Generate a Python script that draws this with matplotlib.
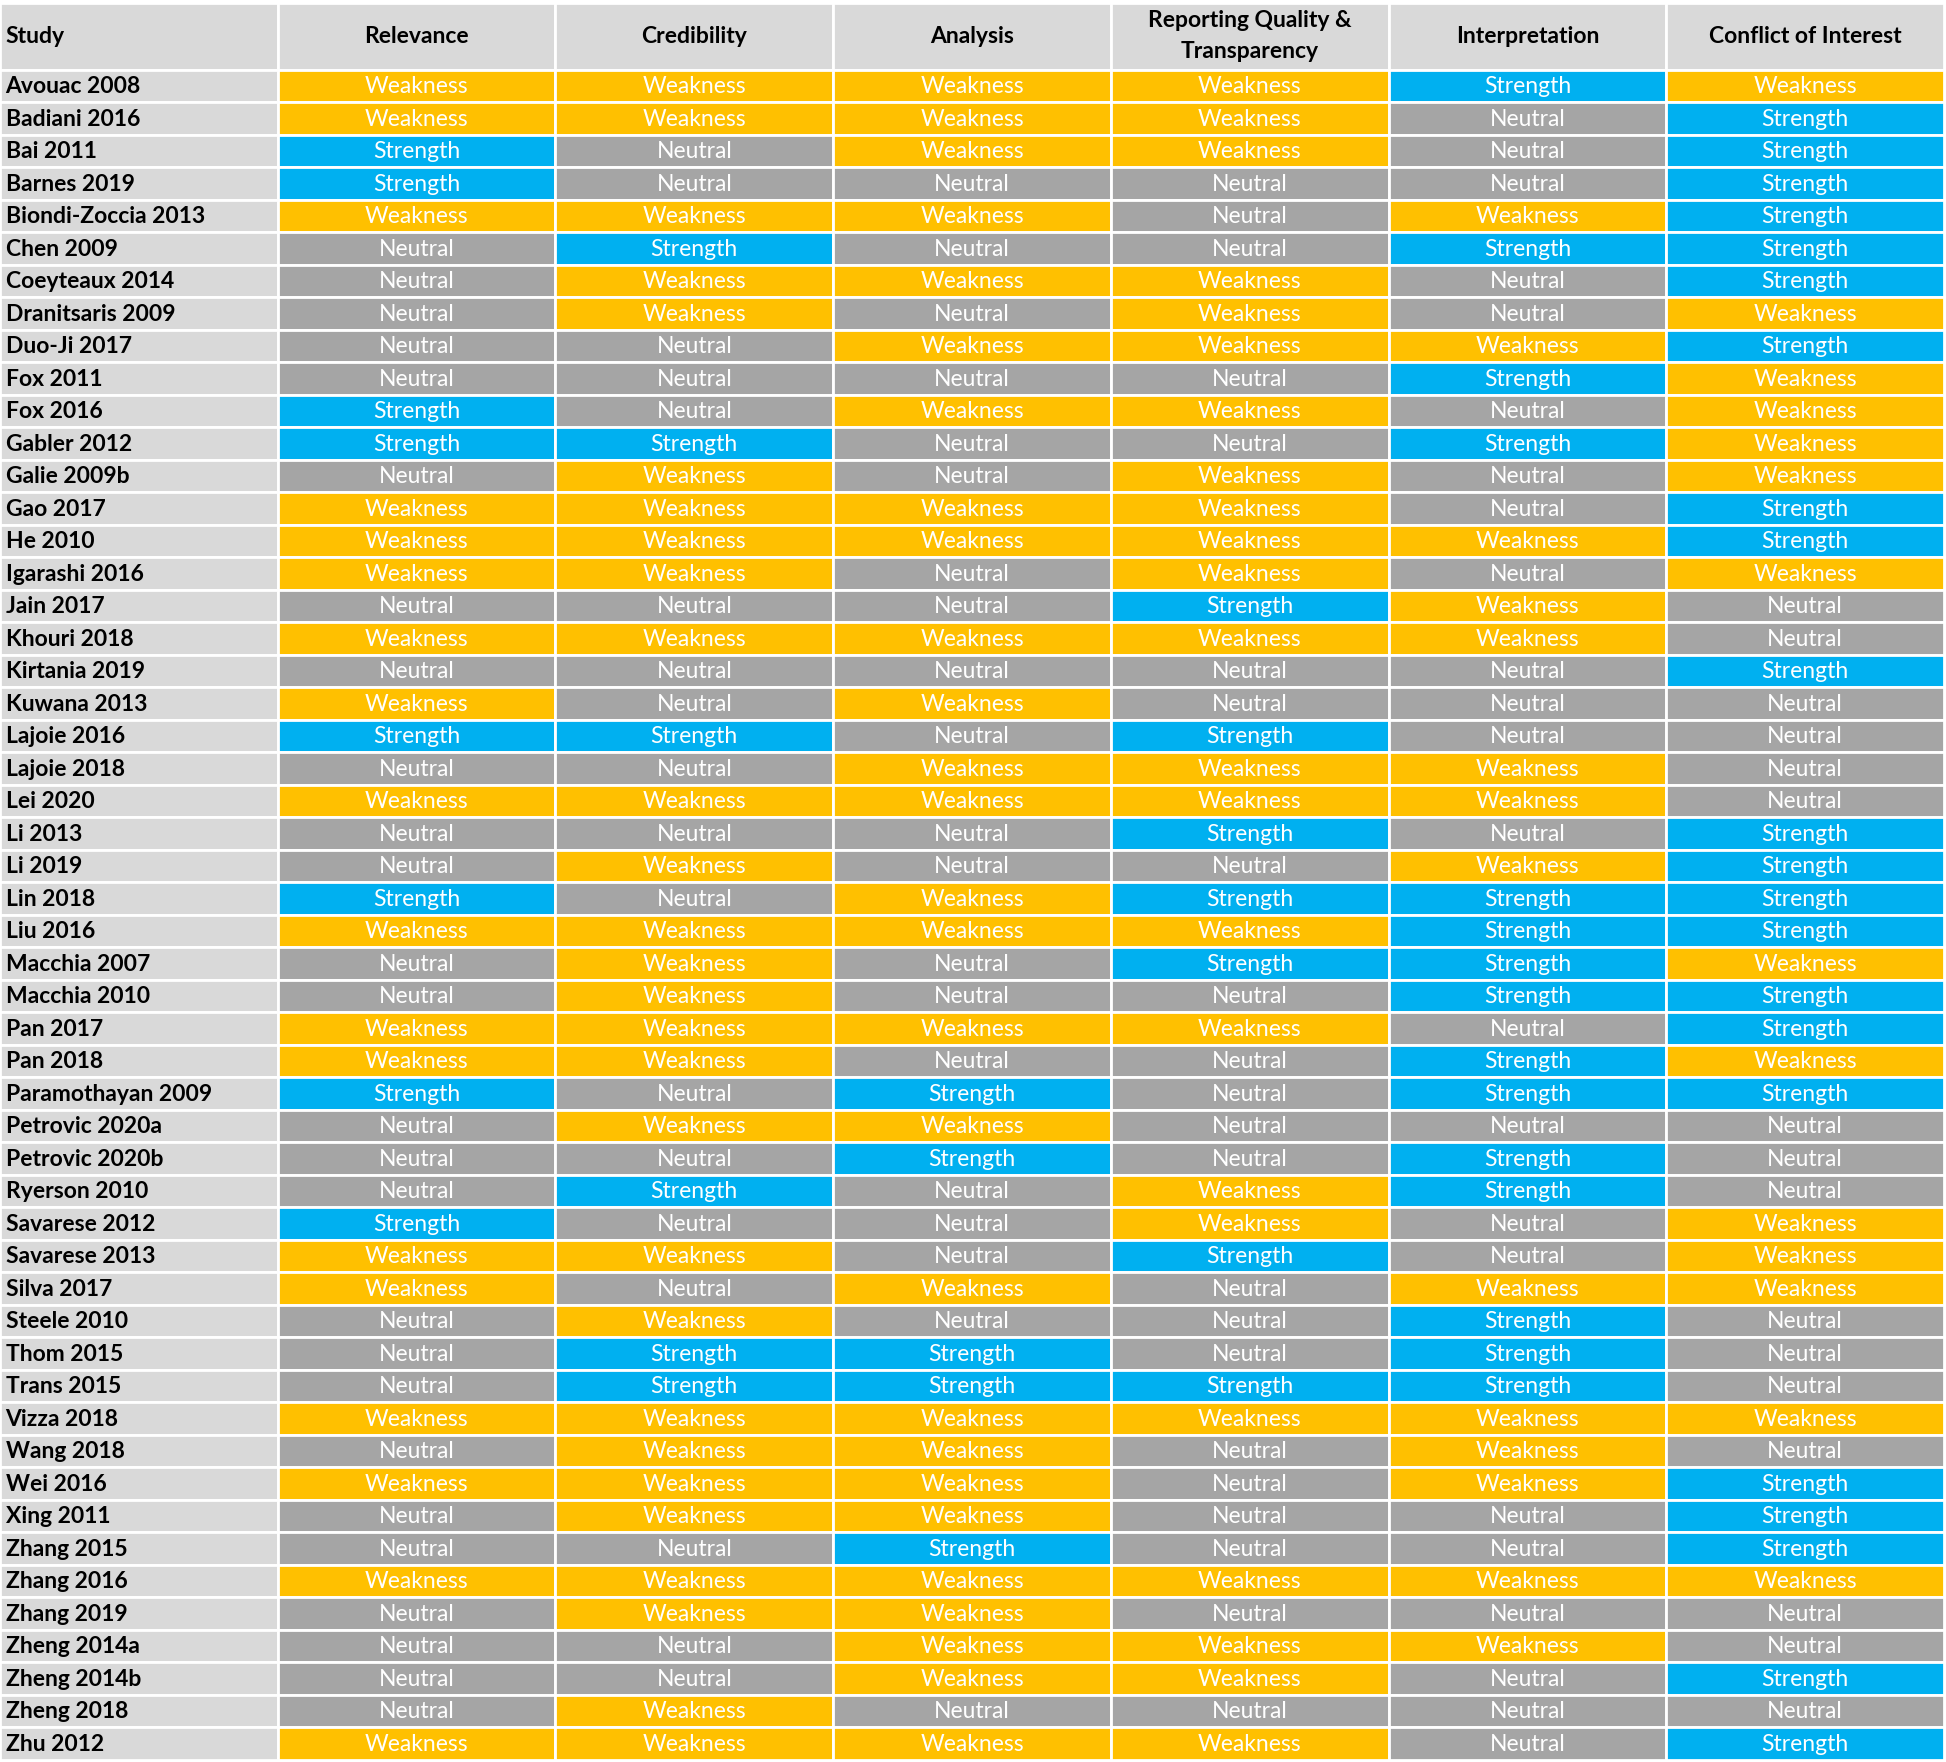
import matplotlib
matplotlib.use("Agg")
import matplotlib.pyplot as plt
from matplotlib.patches import Rectangle

plt.rcParams['font.family'] = ['Lato', 'DejaVu Sans']

# table contents
columns = ["Relevance", "Credibility", "Analysis", "Reporting Quality &\nTransparency",
           "Interpretation", "Conflict of Interest"]

studies = ["Avouac 2008", "Badiani 2016", "Bai 2011", "Barnes 2019", "Biondi-Zoccia 2013",
           "Chen 2009", "Coeyteaux 2014", "Dranitsaris 2009", "Duo-Ji 2017", "Fox 2011",
           "Fox 2016", "Gabler 2012", "Galie 2009b", "Gao 2017", "He 2010",
           "Igarashi 2016", "Jain 2017", "Khouri 2018", "Kirtania 2019", "Kuwana 2013",
           "Lajoie 2016", "Lajoie 2018", "Lei 2020", "Li 2013", "Li 2019",
           "Lin 2018", "Liu 2016", "Macchia 2007", "Macchia 2010", "Pan 2017",
           "Pan 2018", "Paramothayan 2009", "Petrovic 2020a", "Petrovic 2020b", "Ryerson 2010",
           "Savarese 2012", "Savarese 2013", "Silva 2017", "Steele 2010", "Thom 2015",
           "Trans 2015", "Vizza 2018", "Wang 2018", "Wei 2016", "Xing 2011",
           "Zhang 2015", "Zhang 2016", "Zhang 2019", "Zheng 2014a", "Zheng 2014b",
           "Zheng 2018", "Zhu 2012"]

# W = Weakness, S = Strength, N = Neutral
ratings = ["WWWWSW", "WWWWNS", "SNWWNS", "SNNNNS", "WWWNWS",
           "NSNNSS", "NWWWNS", "NWNWNW", "NNWWWS", "NNNNSW",
           "SNWWNW", "SSNNSW", "NWNWNW", "WWWWNS", "WWWWWS",
           "WWNWNW", "NNNSWN", "WWWWWN", "NNNNNS", "WNWNNN",
           "SSNSNN", "NNWWWN", "WWWWWN", "NNNSNS", "NWNNWS",
           "SNWSSS", "WWWWSS", "NWNSSW", "NWNNSS", "WWWWNS",
           "WWNNSW", "SNSNSS", "NWWNNN", "NNSNSN", "NSNWSN",
           "SNNWNW", "WWNSNW", "WNWNWW", "NWNNSN", "NSSNSN",
           "NSSSSN", "WWWWWW", "NWWNWN", "WWWNWS", "NWWNNS",
           "NNSNNS", "WWWWWW", "NWWNNN", "NNWWWN", "NNWWNS",
           "NWNNNN", "WWWWNS"]

labels = {"W": "Weakness", "S": "Strength", "N": "Neutral"}
colors = {"W": "#FFC000", "S": "#00B0F0", "N": "#A5A5A5"}
grey_bg = "#D9D9D9"

fig = plt.figure(figsize=(19.46, 17.62), dpi=100)
ax = fig.add_axes([0, 2 / 1762, 1944 / 1946, 1 - 5 / 1762])
head_h = 2.05
n = len(studies)
ax.set_xlim(0, 7)
ax.set_ylim(n, -head_h)
ax.axis("off")

lw = 2.0
fs = 16.5
# header
ax.add_patch(Rectangle((0, -head_h), 1, head_h, facecolor=grey_bg, edgecolor="white", lw=lw))
ax.text(0.02, -head_h / 2, "Study", ha="left", va="center", fontsize=fs, fontweight="bold")
for j, c in enumerate(columns):
    ax.add_patch(Rectangle((j + 1, -head_h), 1, head_h, facecolor=grey_bg, edgecolor="white", lw=lw))
    ax.text(j + 1.5, -head_h / 2, c, ha="center", va="center", fontsize=fs,
            fontweight="bold", linespacing=1.6)

# body
for i, (s, r) in enumerate(zip(studies, ratings)):
    ax.add_patch(Rectangle((0, i), 1, 1, facecolor=grey_bg, edgecolor="white", lw=lw))
    ax.text(0.02, i + 0.52, s, ha="left", va="center", fontsize=fs, fontweight="bold")
    for j, k in enumerate(r):
        ax.add_patch(Rectangle((j + 1, i), 1, 1, facecolor=colors[k], edgecolor="white", lw=lw))
        ax.text(j + 1.5, i + 0.52, labels[k], ha="center", va="center", fontsize=fs,
                color="white")

fig.savefig("out.png", dpi=100)
